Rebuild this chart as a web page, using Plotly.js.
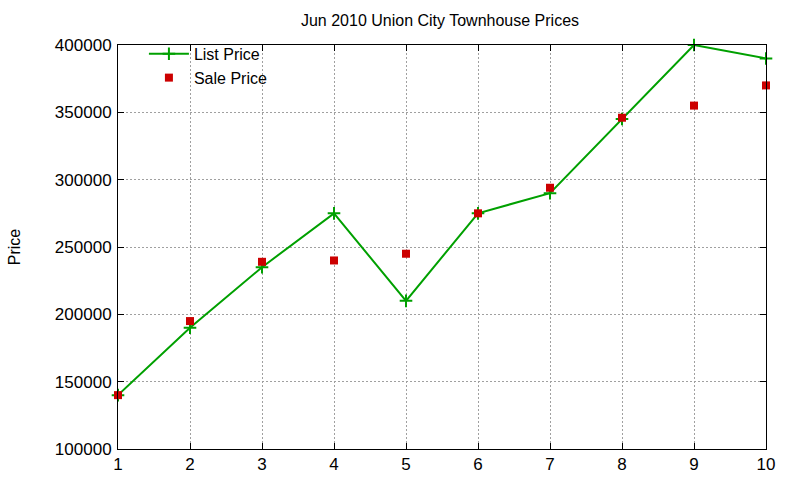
<!DOCTYPE html>
<html>
<head>
<meta charset="utf-8">
<script src="https://cdn.plot.ly/plotly-3.0.1.min.js"></script>
<style>html,body{margin:0;padding:0;background:#fff;}#chart{width:800px;height:480px;}</style>
</head>
<body>
<div id="chart"></div>
<script>
const months = [1, 2, 3, 4, 5, 6, 7, 8, 9, 10];
const listPrice = [140000, 190000, 235000, 275000, 210000, 275000, 290000, 345000, 400000, 390000];
const salePrice = [140000, 195000, 239000, 240000, 245000, 275000, 294000, 346000, 355000, 370000];
const yTicks = [100000, 150000, 200000, 250000, 300000, 350000, 400000];

const font = {family: 'Liberation Sans, Arial, sans-serif', color: '#000'};

const traces = [
  {
    x: months, y: listPrice, name: 'List Price', type: 'scatter', mode: 'lines+markers',
    line: {color: '#00a000', width: 2},
    marker: {symbol: 'cross-thin-open', size: 9, color: '#00a000', line: {color: '#00a000', width: 2}},
    cliponaxis: false
  },
  {
    x: months, y: salePrice, name: 'Sale Price', type: 'scatter', mode: 'markers',
    marker: {symbol: 'square', size: 8, color: '#cc0000'},
    cliponaxis: false
  }
];

const axisCommon = {
  showline: true, linecolor: '#000', linewidth: 1, mirror: 'allticks',
  ticks: 'inside', ticklen: 6, tickcolor: '#000',
  showgrid: true, gridcolor: '#a0a0a0', griddash: '2px,2px', gridwidth: 1,
  zeroline: false, tickfont: Object.assign({size: 17}, font)
};

const layout = {
  width: 800, height: 480,
  paper_bgcolor: '#fff', plot_bgcolor: '#fff',
  margin: {l: 118, r: 34, t: 45, b: 31},
  title: {text: 'Jun 2010 Union City Townhouse Prices', font: Object.assign({size: 16}, font), x: 0.55, xanchor: 'center', y: 0.958, yanchor: 'middle'},
  xaxis: Object.assign({}, axisCommon, {range: [1, 10], tickvals: months, ticktext: months.map(String)}),
  yaxis: Object.assign({}, axisCommon, {range: [100000, 400000], tickvals: yTicks, ticktext: yTicks.map(String),
    ticklabelstandoff: 2,
    title: {text: 'Price', font: Object.assign({size: 16}, font), standoff: 30}}),
  showlegend: true,
  legend: {x: 0.04, y: 1.02, xanchor: 'left', yanchor: 'top', bgcolor: 'rgba(0,0,0,0)',
    font: Object.assign({size: 16}, font), tracegroupgap: 0, itemwidth: 40}
};

Plotly.newPlot('chart', traces, layout, {displayModeBar: false, staticPlot: true});
</script>
</body>
</html>
